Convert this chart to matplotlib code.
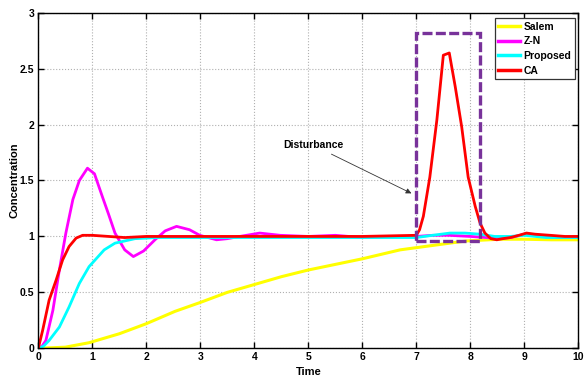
import matplotlib
matplotlib.use('Agg')
import matplotlib.pyplot as plt
from matplotlib.patches import Rectangle

plt.rcParams['font.family'] = ['Liberation Sans', 'DejaVu Sans']
plt.rcParams['font.weight'] = 'bold'

# Salem (yellow)
t_salem = [0, 0.5, 0.94, 1.5, 2.0, 2.53, 3.0, 3.5, 4.0, 4.5, 5.0, 5.5, 6.0, 6.7, 7.31, 7.93, 8.55, 9.0, 9.5, 10]
y_salem = [0, 0.01, 0.05, 0.13, 0.22, 0.33, 0.41, 0.50, 0.57, 0.64, 0.70, 0.75, 0.80, 0.88, 0.92, 0.96, 0.975, 0.975, 0.97, 0.97]

# Z-N (magenta)
t_zn = [0, 0.07, 0.14, 0.27, 0.39, 0.51, 0.64, 0.76, 0.91, 1.04, 1.19, 1.3, 1.42, 1.6, 1.76, 1.95, 2.16, 2.35, 2.56, 2.8,
        2.99, 3.3, 3.5, 3.73, 4.1, 4.48, 5.0, 5.5, 6.0, 6.5, 7.0, 7.3, 7.6, 8.0, 8.3, 8.5, 8.75, 9.0, 9.3, 9.6, 10]
y_zn = [0, 0.02, 0.07, 0.34, 0.70, 1.03, 1.33, 1.50, 1.61, 1.56, 1.35, 1.20, 1.03, 0.88, 0.82, 0.87, 0.97, 1.05, 1.09, 1.06,
        1.01, 0.97, 0.98, 1.0, 1.03, 1.01, 1.0, 1.01, 0.99, 1.0, 1.0, 1.01, 1.01, 1.0, 0.99, 0.98, 0.99, 1.02, 1.01, 0.99, 0.99]

# Proposed (cyan)
t_prop = [0, 0.1, 0.2, 0.39, 0.57, 0.76, 0.94, 1.22, 1.42, 1.79, 2.2, 3, 4, 5, 6, 7.0, 7.3, 7.62, 7.9, 8.18, 8.45, 8.74, 9.0, 9.4, 10]
y_prop = [0, 0.02, 0.07, 0.19, 0.37, 0.58, 0.73, 0.88, 0.94, 0.98, 0.99, 0.99, 0.99, 0.99, 0.99, 0.99, 1.01, 1.03, 1.03, 1.02, 1.0, 1.0, 1.01, 0.99, 0.99]

# CA (red)
t_ca = [0, 0.08, 0.2, 0.33, 0.45, 0.57, 0.7, 0.82, 1.0, 1.3, 1.6, 2.0, 3, 4, 5, 6, 7.0, 7.06, 7.13, 7.25, 7.38, 7.5, 7.61,
        7.72, 7.84, 7.96, 8.09, 8.18, 8.27, 8.38, 8.49, 8.6, 8.74, 8.9, 9.04, 9.2, 9.48, 9.75, 10]
y_ca = [0, 0.16, 0.43, 0.61, 0.79, 0.91, 0.985, 1.01, 1.01, 1.0, 0.99, 1.0, 1.0, 1.0, 1.0, 1.0, 1.01, 1.06, 1.18, 1.53, 2.04, 2.62, 2.64,
        2.34, 1.98, 1.53, 1.27, 1.12, 1.03, 0.98, 0.97, 0.98, 0.99, 1.01, 1.03, 1.02, 1.01, 1.0, 1.0]

fig = plt.figure(figsize=(5.84, 3.79), dpi=100)
ax = fig.add_axes([0.0656, 0.081, 0.9247, 0.8855])

ax.plot(t_salem, y_salem, color='#FFFF00', lw=2.2, label='Salem')
ax.plot(t_zn, y_zn, color='#FF00FF', lw=2.0, label='Z-N')
ax.plot(t_prop, y_prop, color='#00FFFF', lw=2.0, label='Proposed')
ax.plot(t_ca, y_ca, color='#FF0000', lw=2.0, label='CA')

# disturbance box
ax.add_patch(Rectangle((7.0, 0.96), 1.17, 1.86, fill=False, edgecolor='#78329A',
                       lw=2.4, linestyle=(0, (3, 1)), zorder=5))
ax.annotate('Disturbance', xy=(6.91, 1.385), xytext=(4.53, 1.816),
            fontsize=7.5, fontweight='bold', va='center', ha='left',
            arrowprops=dict(arrowstyle='-|>', color='#333333', lw=0.6,
                            mutation_scale=8, shrinkA=2, shrinkB=0))

ax.set_xlim(0, 10)
ax.set_ylim(0, 3)
ax.set_xticks(range(0, 11))
ax.set_yticks([0, 0.5, 1, 1.5, 2, 2.5, 3])
ax.set_yticklabels(['0', '0.5', '1', '1.5', '2', '2.5', '3'])
ax.tick_params(direction='in', top=True, right=True, length=4, width=1,
               labelsize=7.5, pad=3)
for s in ax.spines.values():
    s.set_linewidth(1.0)
ax.grid(True, linestyle=':', color='#b0b0b0', lw=0.8)

ax.set_xlabel('Time', fontsize=8, fontweight='bold', labelpad=3)
ax.set_ylabel('Concentration', fontsize=8, fontweight='bold')
ax.yaxis.set_label_coords(-0.034, 0.5)

leg = ax.legend(loc='upper right', bbox_to_anchor=(575 / 584, 1 - 18 / 379),
                bbox_transform=fig.transFigure, borderaxespad=0,
                fontsize=7.5, handlelength=2.1, labelspacing=0.45,
                handletextpad=0.3, borderpad=0.35, fancybox=False, framealpha=1)
leg.get_frame().set_edgecolor('#333333')
leg.get_frame().set_linewidth(0.9)
for h in leg.get_lines():
    h.set_linewidth(2.5)

fig.savefig('out.png', dpi=100)
